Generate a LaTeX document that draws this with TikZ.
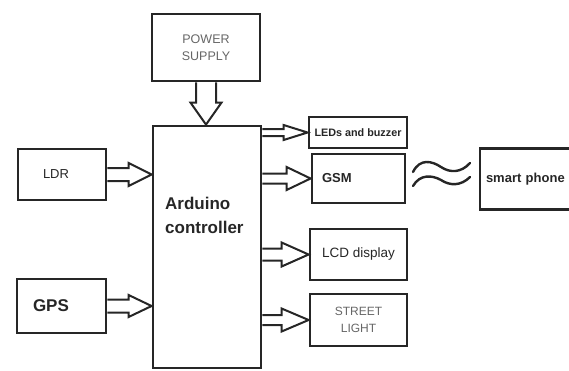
\documentclass[tikz,border=0pt]{standalone}
\usepackage{fontspec}
\setmainfont{Liberation Sans}
\usetikzlibrary{calc}

% hollow block arrows: start, end, half shaft, half head, head length
\newcommand{\rightblock}[5]{%
  \draw[hollow] let \p1=(#1), \p2=(#2) in
    (\x1,\y2+#3pt) -- (\x2-#5pt,\y2+#3pt) -- (\x2-#5pt,\y2+#4pt) -- (\x2,\y2)
    -- (\x2-#5pt,\y2-#4pt) -- (\x2-#5pt,\y2-#3pt) -- (\x1,\y2-#3pt);}
\newcommand{\downblock}[5]{%
  \draw[hollow] let \p1=(#1), \p2=(#2) in
    (\x1-#3pt,\y1) -- (\x1-#3pt,\y2+#5pt) -- (\x1-#4pt,\y2+#5pt) -- (\x1,\y2)
    -- (\x1+#4pt,\y2+#5pt) -- (\x1+#3pt,\y2+#5pt) -- (\x1+#3pt,\y1);}

\begin{document}
\begin{tikzpicture}[x=1pt,y=-1pt,
    box/.style={draw=black!85, line width=2.8pt, inner sep=0pt, align=center, text=black!85},
    hollow/.style={draw=black!85, line width=2pt, line join=miter},
    wave/.style={draw=black!85, line width=2.4pt, line cap=round}]
    \path[use as bounding box, clip] (0,0) rectangle (569,370);

    % Blocks
    \node[box, minimum width=108pt, minimum height=67pt, text=black!60,
        font=\fontsize{12.5}{17}\selectfont] (power) at (206,47.5) {POWER\\SUPPLY};
    \node[box, minimum width=108pt, minimum height=242pt] (arduino) at (207,247) {};
    \node[anchor=north west, inner sep=0pt, align=left, text=black!85,
        font=\bfseries\fontsize{17}{24}\selectfont] (ardtext) at (165,197) {Arduino\\controller};
    \node[box, minimum height=51pt, inner xsep=25pt, text width=38pt, align=left,
        font=\fontsize{13}{15}\selectfont] (ldr) at (62,174.5) {LDR};
    \node[box, minimum height=54pt, inner xsep=16pt, text width=57pt, align=left,
        font=\bfseries\fontsize{17}{19}\selectfont] (gps) at (61.5,306) {GPS};
    \node[box, minimum width=98pt, minimum height=31pt,
        font=\bfseries\fontsize{10.8}{13}\selectfont] (led) at (358,132.5) {LEDs and buzzer};
    \node[box, minimum height=49pt, inner xsep=10pt, text width=73pt, align=left,
        font=\bfseries\fontsize{13}{15}\selectfont] (gsm) at (358.5,178.5) {GSM};
    \node[box, minimum height=61pt, inner xsep=6pt, text width=100pt, align=left,
        font=\bfseries\fontsize{13}{15}\selectfont] (phone) at (536,179) {smart phone};
    \node[box, minimum width=97pt, minimum height=51pt,
        font=\fontsize{13.5}{15}\selectfont] (lcd) at (358.5,254.5) {LCD display};
    \node[box, minimum width=97pt, minimum height=52pt, text=black!60,
        font=\fontsize{12}{17}\selectfont] (street) at (358.5,320) {STREET\\LIGHT};

    % Block arrows
    \downblock{power.south}{arduino.north}{10}{15.5}{22}
    \rightblock{ldr.east}{arduino.west |- ldr.east}{6.5}{11.5}{23}
    \rightblock{gps.east}{arduino.west |- gps.east}{6.5}{11}{23}
    \rightblock{arduino.east}{led.west}{3.5}{7.5}{24}
    \rightblock{arduino.east}{gsm.west}{5}{11.5}{24}
    \rightblock{arduino.east}{lcd.west}{6}{12}{27}
    \rightblock{arduino.east}{street.west}{5}{11.5}{27}

    % Wireless link
    \draw[wave] (413,172) .. controls (420,158) and (432,161) .. (441,167)
        .. controls (450,173) and (461,173) .. (470,163);
    \draw[wave] (413,186) .. controls (420,174) and (432,175) .. (441,180)
        .. controls (450,186) and (461,186) .. (470,177);
\end{tikzpicture}
\end{document}
